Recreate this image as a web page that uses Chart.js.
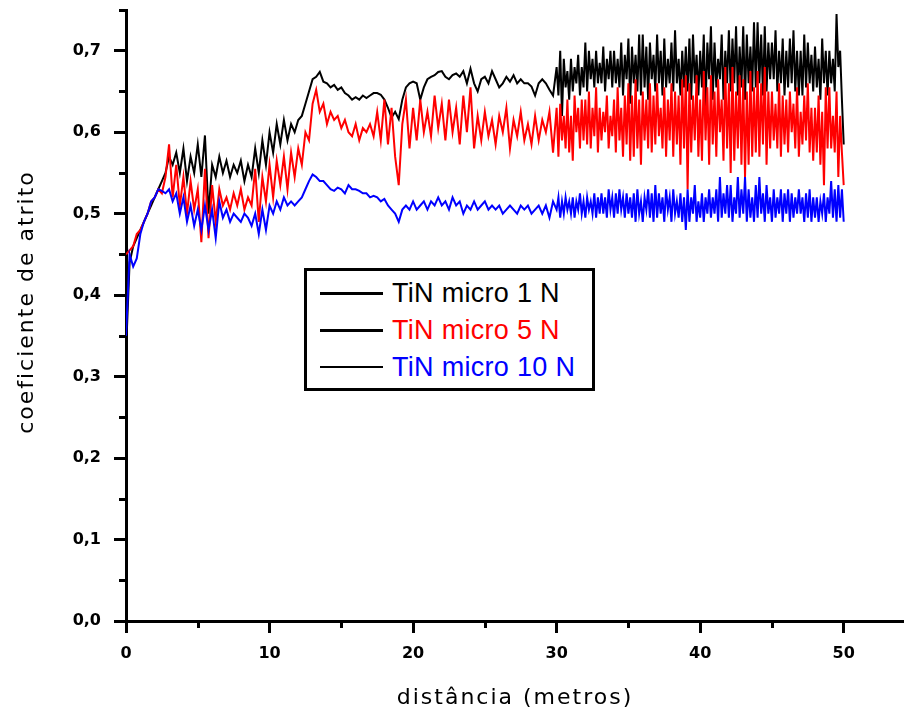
<!DOCTYPE html>
<html>
<head>
<meta charset="utf-8">
<script src="https://cdn.jsdelivr.net/npm/chart.js@4/dist/chart.umd.min.js"></script>
<style>
  html, body { margin:0; padding:0; background:#fff; }
  #wrap { position:relative; width:904px; height:713px; }
  #legend { position:absolute; left:304px; top:268px; width:291px; height:123px; border:3px solid #000; box-sizing:border-box; background:#fff; }
  .ln { position:absolute; left:13px; width:63px; height:3px; background:#000; }
  .tx { position:absolute; left:85px; font-family:"Liberation Sans", Arial, sans-serif; font-size:27px; line-height:27px; white-space:pre; letter-spacing:0.3px; }
</style>
</head>
<body>
<div id="wrap">
  <canvas id="c" width="904" height="713"></canvas>
  <div id="legend">
    <div class="ln" style="top:21px"></div><div class="tx" style="top:9px;color:#000">TiN micro 1 N</div>
    <div class="ln" style="top:58px"></div><div class="tx" style="top:46px;color:#ff0000">TiN micro 5 N</div>
    <div class="ln" style="top:95px;height:2px"></div><div class="tx" style="top:83px;color:#0000ff">TiN micro 10 N</div>
  </div>
</div>
<script>
// ---- sampling grid: every 0.25 m up to 29.75 m, then every 0.125 m from 30 to 50 m ----
const distances = [];
for (let i = 0; i < 120; i++) distances.push(i * 0.25);
for (let i = 0; i <= 160; i++) distances.push(30 + i * 0.125);

const seriesNames = ["TiN micro 1 N", "TiN micro 5 N", "TiN micro 10 N"];

const black1N = [
  0.33,0.44,0.46,0.47,0.48,0.49,0.50,0.51,0.52,0.53,0.54,0.55,0.57,0.56,0.575,0.55,0.58,0.54,0.57,0.55,
  0.585,0.545,0.596,0.50,0.56,0.545,0.57,0.55,0.565,0.545,0.56,0.55,0.565,0.54,0.56,0.545,0.58,0.55,0.59,0.56,
  0.60,0.575,0.61,0.585,0.615,0.59,0.61,0.60,0.615,0.62,0.635,0.65,0.665,0.668,0.674,0.662,0.66,0.655,0.658,0.652,
  0.655,0.648,0.645,0.64,0.643,0.64,0.645,0.642,0.645,0.648,0.648,0.646,0.64,0.63,0.618,0.625,0.616,0.64,0.655,0.66,
  0.662,0.66,0.64,0.655,0.665,0.668,0.67,0.674,0.675,0.668,0.665,0.67,0.672,0.668,0.675,0.66,0.678,0.66,0.65,0.665,
  0.668,0.66,0.675,0.665,0.655,0.66,0.668,0.662,0.67,0.66,0.665,0.66,0.66,0.656,0.645,0.66,0.665,0.66,0.652,0.645,
  0.68,0.645,0.70,0.62,0.69,0.655,0.675,0.64,
  0.69,0.65,0.68,0.66,0.695,0.645,0.68,0.655,
  0.71,0.65,0.70,0.665,0.69,0.655,0.70,0.66,
  0.685,0.66,0.705,0.65,0.69,0.665,0.70,0.655,
  0.70,0.66,0.69,0.655,0.71,0.645,0.695,0.665,
  0.715,0.635,0.705,0.66,0.695,0.65,0.72,0.645,
  0.72,0.655,0.705,0.64,0.71,0.665,0.695,0.65,
  0.72,0.66,0.70,0.645,0.715,0.655,0.69,0.66,
  0.71,0.65,0.725,0.66,0.69,0.645,0.70,0.655,
  0.705,0.65,0.715,0.64,0.72,0.66,0.695,0.645,
  0.70,0.655,0.72,0.63,0.71,0.665,0.73,0.64,
  0.71,0.655,0.69,0.665,0.72,0.64,0.70,0.66,
  0.725,0.65,0.715,0.66,0.73,0.645,0.705,0.655,
  0.73,0.64,0.72,0.66,0.705,0.65,0.735,0.655,
  0.735,0.66,0.72,0.645,0.73,0.65,0.71,0.665,
  0.71,0.665,0.725,0.65,0.70,0.66,0.715,0.645,
  0.70,0.655,0.715,0.66,0.725,0.65,0.70,0.645,
  0.70,0.645,0.72,0.655,0.71,0.66,0.695,0.65,
  0.705,0.655,0.69,0.64,0.715,0.66,0.70,0.645,
  0.70,0.66,0.69,0.65,0.745,0.68,0.70,0.64,
  0.585
];

const red5N = [
  0.45,0.455,0.46,0.475,0.48,0.49,0.50,0.515,0.52,0.53,0.525,0.545,0.585,0.52,0.56,0.51,0.545,0.50,0.54,0.505,
  0.53,0.465,0.555,0.47,0.535,0.49,0.53,0.51,0.52,0.505,0.525,0.51,0.53,0.505,0.52,0.51,0.555,0.49,0.545,0.515,
  0.56,0.52,0.565,0.535,0.57,0.53,0.575,0.545,0.58,0.56,0.60,0.59,0.635,0.652,0.625,0.635,0.61,0.625,0.615,0.62,
  0.605,0.615,0.60,0.595,0.61,0.59,0.605,0.60,0.61,0.595,0.625,0.59,0.64,0.585,0.63,0.57,0.535,0.61,0.64,0.58,
  0.63,0.59,0.64,0.60,0.625,0.595,0.645,0.605,0.635,0.59,0.64,0.60,0.63,0.585,0.645,0.60,0.655,0.58,0.62,0.59,
  0.625,0.595,0.615,0.585,0.62,0.60,0.63,0.58,0.615,0.595,0.625,0.59,0.61,0.585,0.62,0.59,0.615,0.60,0.625,0.575,
  0.63,0.57,0.635,0.59,0.62,0.58,0.64,0.575,
  0.62,0.565,0.645,0.60,0.63,0.58,0.64,0.59,
  0.64,0.585,0.65,0.58,0.63,0.595,0.655,0.575,
  0.63,0.59,0.625,0.60,0.645,0.58,0.62,0.595,
  0.64,0.575,0.655,0.59,0.63,0.57,0.645,0.585,
  0.66,0.565,0.645,0.57,0.665,0.58,0.64,0.56,
  0.65,0.59,0.64,0.58,0.66,0.575,0.645,0.585,
  0.66,0.595,0.63,0.58,0.655,0.57,0.64,0.59,
  0.66,0.57,0.65,0.585,0.645,0.56,0.665,0.58,
  0.67,0.53,0.66,0.575,0.645,0.59,0.67,0.57,
  0.64,0.565,0.675,0.59,0.655,0.56,0.67,0.585,
  0.65,0.57,0.665,0.60,0.64,0.565,0.68,0.58,
  0.66,0.55,0.68,0.565,0.65,0.58,0.67,0.56,
  0.665,0.545,0.65,0.56,0.675,0.57,0.655,0.575,
  0.675,0.57,0.66,0.585,0.68,0.56,0.65,0.58,
  0.65,0.59,0.635,0.58,0.66,0.57,0.645,0.585,
  0.64,0.575,0.65,0.60,0.635,0.58,0.655,0.57,
  0.625,0.585,0.645,0.59,0.66,0.575,0.63,0.565,
  0.63,0.575,0.645,0.56,0.625,0.535,0.655,0.58,
  0.655,0.58,0.62,0.575,0.65,0.545,0.62,0.575,
  0.535
];

const blue10N = [
  0.35,0.45,0.435,0.445,0.475,0.49,0.50,0.515,0.52,0.53,0.528,0.525,0.53,0.515,0.525,0.50,0.52,0.49,0.51,0.485,
  0.505,0.48,0.51,0.48,0.505,0.47,0.515,0.495,0.505,0.49,0.50,0.495,0.49,0.50,0.495,0.485,0.50,0.475,0.505,0.48,
  0.51,0.50,0.515,0.505,0.52,0.51,0.515,0.51,0.515,0.52,0.53,0.54,0.548,0.545,0.54,0.54,0.535,0.53,0.528,0.532,
  0.53,0.525,0.535,0.53,0.53,0.528,0.525,0.525,0.52,0.522,0.52,0.515,0.518,0.51,0.505,0.50,0.49,0.505,0.51,0.505,
  0.515,0.505,0.51,0.515,0.505,0.515,0.51,0.52,0.51,0.515,0.505,0.52,0.51,0.515,0.50,0.51,0.505,0.515,0.505,0.51,
  0.515,0.505,0.51,0.505,0.51,0.50,0.505,0.51,0.505,0.50,0.51,0.505,0.51,0.50,0.505,0.51,0.50,0.51,0.495,0.515,
  0.505,0.52,0.495,0.515,0.50,0.52,0.505,0.515,
  0.50,0.52,0.495,0.515,0.505,0.525,0.50,0.515,
  0.495,0.52,0.505,0.515,0.50,0.525,0.495,0.52,
  0.50,0.525,0.50,0.52,0.495,0.53,0.505,0.52,
  0.495,0.525,0.50,0.53,0.505,0.52,0.495,0.525,
  0.50,0.52,0.495,0.525,0.49,0.53,0.50,0.515,
  0.49,0.52,0.505,0.53,0.495,0.525,0.49,0.535,
  0.495,0.525,0.50,0.52,0.49,0.53,0.505,0.52,
  0.49,0.53,0.50,0.515,0.495,0.525,0.49,0.52,
  0.48,0.53,0.49,0.52,0.50,0.535,0.49,0.515,
  0.495,0.525,0.49,0.52,0.50,0.53,0.495,0.52,
  0.50,0.53,0.49,0.545,0.495,0.525,0.50,0.535,
  0.495,0.535,0.49,0.52,0.50,0.545,0.495,0.53,
  0.50,0.545,0.49,0.53,0.495,0.52,0.49,0.535,
  0.495,0.545,0.50,0.525,0.49,0.535,0.50,0.52,
  0.49,0.53,0.495,0.52,0.50,0.53,0.49,0.525,
  0.50,0.53,0.49,0.525,0.495,0.52,0.50,0.53,
  0.50,0.52,0.49,0.525,0.495,0.53,0.49,0.52,
  0.495,0.52,0.49,0.515,0.50,0.525,0.49,0.52,
  0.50,0.54,0.495,0.53,0.49,0.535,0.495,0.53,
  0.49
];

const xTickStep = 10;
const yTickStep = 0.1;
const xMinorTicks = [5, 15, 25, 35, 45];
const yMinorTicks = [0.05, 0.15, 0.25, 0.35, 0.45, 0.55, 0.65, 0.75];

function toPoints(vals) { return vals.map((v, i) => ({ x: distances[i], y: v })); }

const minorTicksPlugin = {
  id: 'minorTicks',
  beforeDraw(chart) { chart.ctx.letterSpacing = '2px'; },
  beforeDatasetsDraw(chart) { chart.ctx.letterSpacing = '0px'; },
  afterDraw(chart) {
    const ctx = chart.ctx, xs = chart.scales.x, ys = chart.scales.y, a = chart.chartArea;
    ctx.save();
    ctx.strokeStyle = '#000';
    ctx.lineWidth = 3;
    ctx.beginPath();
    xMinorTicks.forEach(v => { const p = Math.round(xs.getPixelForValue(v)) + 0.5; ctx.moveTo(p, a.bottom); ctx.lineTo(p, a.bottom + 7); });
    yMinorTicks.forEach(v => { const p = Math.round(ys.getPixelForValue(v)) + 0.5; ctx.moveTo(a.left, p); ctx.lineTo(a.left - 7, p); });
    ctx.stroke();
    ctx.restore();
    ctx.letterSpacing = '0px';
  }
};

const tickFont = { family: '"DejaVu Sans", sans-serif', size: 16, weight: 'bold' };
const titleFont = { family: '"DejaVu Sans", sans-serif', size: 22, weight: 'normal' };

new Chart(document.getElementById('c'), {
  type: 'line',
  data: {
    datasets: [
      { label: seriesNames[0], data: toPoints(black1N), borderColor: '#000000', borderWidth: 2, pointRadius: 0, tension: 0, order: 3 },
      { label: seriesNames[1], data: toPoints(red5N), borderColor: '#ff0000', borderWidth: 2, pointRadius: 0, tension: 0, order: 2 },
      { label: seriesNames[2], data: toPoints(blue10N), borderColor: '#0000ff', borderWidth: 2, pointRadius: 0, tension: 0, order: 1 }
    ]
  },
  options: {
    responsive: false,
    animation: false,
    events: [],
    layout: { padding: { left: 0, right: 0, top: 10, bottom: 0 } },
    plugins: { legend: { display: false }, tooltip: { enabled: false } },
    scales: {
      x: {
        type: 'linear', min: 0, max: 54.2,
        grid: { drawOnChartArea: false, drawTicks: true, tickLength: 12, tickWidth: 3, tickColor: '#000' },
        border: { display: true, color: '#000', width: 3 },
        ticks: { stepSize: xTickStep, includeBounds: false, autoSkip: false, maxRotation: 0, color: '#000', font: tickFont, padding: 11, z: 1,
                 callback: v => String(v) },
        title: { display: true, text: 'distância (metros)', color: '#000', font: titleFont, padding: { top: 0, bottom: 2 } },
        afterFit: s => { s.height = 92; s.paddingLeft = 0; s.paddingRight = 0; }
      },
      y: {
        type: 'linear', min: 0, max: 0.75,
        grid: { drawOnChartArea: false, drawTicks: true, tickLength: 12, tickWidth: 3, tickColor: '#000' },
        border: { display: true, color: '#000', width: 3 },
        ticks: { stepSize: yTickStep, includeBounds: false, autoSkip: false, color: '#000', font: tickFont, padding: 13, z: 1,
                 callback: v => v.toFixed(1).replace('.', ',') },
        title: { display: true, text: '   coeficiente de atrito', color: '#000', font: titleFont, padding: { top: 14, bottom: 0 } },
        afterFit: s => { s.width = 126; s.paddingTop = 0; s.paddingBottom = 0; }
      }
    }
  },
  plugins: [minorTicksPlugin]
});
</script>
</body>
</html>
